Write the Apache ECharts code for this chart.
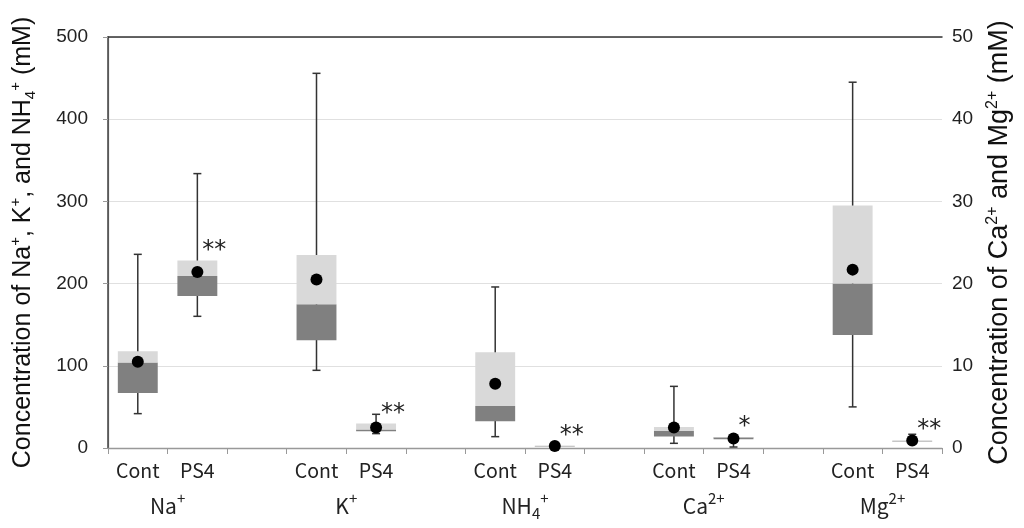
<!DOCTYPE html>
<html>
<head>
<meta charset="utf-8">
<script src="https://cdn.jsdelivr.net/npm/echarts@6/dist/echarts.min.js"></script>
<style>html,body{margin:0;padding:0;background:#fff;}#c{width:1024px;height:528px;}</style>
</head>
<body>
<div id="c"></div>
<script>
// x slots (empty strings are gaps between ion groups)
const categories = ['Cont','PS4','','Cont','PS4','','Cont','PS4','','Cont','PS4','','Cont','PS4'];
const groupLabels = ['Na{sup|+}', 'K{sup|+}', 'NH{sub|4}{sup|+}', 'Ca{sup|2+}', 'Mg{sup|2+}'];
const leftTicks = [0, 100, 200, 300, 400, 500];
const rightTicks = [0, 10, 20, 30, 40, 50];

// boxes in order: Na Cont, Na PS4, K Cont, K PS4, NH4 Cont, NH4 PS4, Ca Cont, Ca PS4, Mg Cont, Mg PS4
const boxSlot     = [0, 1, 3, 4, 6, 7, 9, 10, 12, 13];
const boxAxis     = [0, 0, 0, 0, 0, 0, 1, 1, 1, 1];
const whiskerLow  = [41.8, 160.2, 94.5, 17.5, 13.8, 1.8, 0.57, 0.12, 5.0, 0.7];
const q1Values    = [66.9, 185.0, 131.0, 20.3, 32.5, 2.0, 1.39, 1.05, 13.75, 0.80];
const medianVals  = [103.9, 209.3, 174.8, 22.4, 51.1, 2.2, 2.07, 1.30, 20.0, 0.82];
const q3Values    = [117.6, 228.0, 234.8, 29.7, 116.4, 3.0, 2.55, 1.35, 29.5, 0.95];
const whiskerHigh = [235.6, 333.8, 455.8, 41.0, 195.9, 3.2, 7.5, 1.4, 44.5, 1.67];
const meanValues  = [105.0, 214.1, 205.0, 24.8, 78.3, 2.4, 2.48, 1.15, 21.7, 0.9];
const significance = ['', '**', '', '**', '', '**', '', '*', '', '**'];

function buildData(axisIdx) {
  const out = [];
  for (let i = 0; i < boxSlot.length; i++) {
    if (boxAxis[i] !== axisIdx) continue;
    out.push({value: [boxSlot[i], whiskerLow[i], q1Values[i], medianVals[i], q3Values[i], whiskerHigh[i], meanValues[i]], sig: significance[i]});
  }
  return out;
}
const leftData = buildData(0);
const rightData = buildData(1);

function makeRender(data) {
  return function (params, api) {
    const x = api.value(0);
    const lo = api.coord([x, api.value(1)]);
    const q1 = api.coord([x, api.value(2)]);
    const med = api.coord([x, api.value(3)]);
    const q3 = api.coord([x, api.value(4)]);
    const hi = api.coord([x, api.value(5)]);
    const mean = api.coord([x, api.value(6)]);
    const bw = api.size([1, 0])[0] * 0.67;
    const cx = lo[0];
    const cap = 4;
    const lineStyle = {stroke: '#333', lineWidth: 1.5};
    const sig = data[params.dataIndex].sig;
    const children = [
      {type: 'line', shape: {x1: cx, y1: lo[1], x2: cx, y2: hi[1]}, style: lineStyle},
      {type: 'line', shape: {x1: cx - cap, y1: lo[1], x2: cx + cap, y2: lo[1]}, style: lineStyle},
      {type: 'line', shape: {x1: cx - cap, y1: hi[1], x2: cx + cap, y2: hi[1]}, style: lineStyle},
      {type: 'rect', shape: {x: cx - bw / 2, y: med[1], width: bw, height: Math.max(q1[1] - med[1], 0.6)}, style: {fill: '#808080'}},
      {type: 'rect', shape: {x: cx - bw / 2, y: q3[1], width: bw, height: Math.max(med[1] - q3[1], 0.6)}, style: {fill: '#d9d9d9'}},
      {type: 'circle', shape: {cx: cx, cy: mean[1], r: 6}, style: {fill: '#000'}}
    ];
    if (sig) {
      children.push({type: 'text', x: cx + 5, y: q3[1] - 10, style: {text: sig, fill: '#222', font: '24px "DejaVu Sans"', align: 'left', verticalAlign: 'middle'}});
    }
    return {type: 'group', children: children};
  };
}

function richFor(font, size, color) {
  return {
    sup: {fontSize: size, verticalAlign: 'top', lineHeight: 30, fontFamily: font, color: color},
    sub: {fontSize: size, verticalAlign: 'bottom', lineHeight: 30, fontFamily: font, color: color}
  };
}

const chart = echarts.init(document.getElementById('c'));
chart.setOption({
  animation: false,
  grid: {left: 105, right: 82, top: 37, bottom: 80},
  xAxis: [
    {
      type: 'category', data: categories, position: 'bottom',
      axisLine: {lineStyle: {color: '#999', width: 1.3}},
      axisTick: {show: true, length: 6, lineStyle: {color: '#999'}},
      axisLabel: {color: '#222', fontSize: 19.5, fontFamily: 'Noto Sans CJK KR', margin: 13, interval: 0},
      splitLine: {show: false}
    },
    {
      type: 'value', min: 0, max: 14, interval: 1, position: 'bottom',
      axisLine: {show: false}, axisTick: {show: false}, splitLine: {show: false},
      axisLabel: {
        margin: 43, color: '#222', fontSize: 21, fontFamily: 'Noto Sans CJK KR', lineHeight: 30,
        rich: richFor('Noto Sans CJK KR', 15, '#222'),
        formatter: function (v) { return ((v - 1) % 3 === 0) ? groupLabels[(v - 1) / 3] : ''; }
      }
    },
    {
      type: 'value', min: 0, max: 14, position: 'top',
      axisLine: {show: true, lineStyle: {color: '#333', width: 1.5}},
      axisTick: {show: false}, axisLabel: {show: false}, splitLine: {show: false}
    }
  ],
  yAxis: [
    {
      type: 'value', min: leftTicks[0], max: leftTicks[leftTicks.length - 1], interval: 100, position: 'left',
      axisLine: {show: true, lineStyle: {color: '#999', width: 1.3}},
      axisTick: {show: true, length: 5, lineStyle: {color: '#999'}},
      axisLabel: {color: '#222', fontSize: 19, fontFamily: 'Liberation Sans', margin: 20},
      splitLine: {show: true, lineStyle: {color: '#e0e0e0', width: 1}},
      name: 'Concentration of Na{sup|+}, K{sup|+}, and NH{sub|4}{sup|+} (mM)',
      nameLocation: 'middle', nameGap: 70, nameRotate: 90,
      nameTextStyle: {color: '#111', fontSize: 25, fontFamily: 'Liberation Sans', lineHeight: 30,
        rich: richFor('Liberation Sans', 15, '#111')}
    },
    {
      type: 'value', min: rightTicks[0], max: rightTicks[rightTicks.length - 1], interval: 10, position: 'right',
      axisLine: {show: true, lineStyle: {color: '#444', width: 1.5}},
      axisTick: {show: false},
      axisLabel: {color: '#222', fontSize: 19, fontFamily: 'Liberation Sans', margin: 10},
      splitLine: {show: false},
      name: 'Concentration of Ca{sup|2+} and Mg{sup|2+} (mM)',
      nameLocation: 'middle', nameGap: 43, nameRotate: 90,
      nameTextStyle: {color: '#111', fontSize: 27, fontFamily: 'Liberation Sans', lineHeight: 30,
        rich: richFor('Liberation Sans', 16, '#111')}
    }
  ],
  series: [
    {type: 'custom', xAxisIndex: 0, yAxisIndex: 0, renderItem: makeRender(leftData), data: leftData.map(d => d.value), z: 5},
    {type: 'custom', xAxisIndex: 0, yAxisIndex: 1, renderItem: makeRender(rightData), data: rightData.map(d => d.value), z: 5}
  ]
});
</script>
</body>
</html>
